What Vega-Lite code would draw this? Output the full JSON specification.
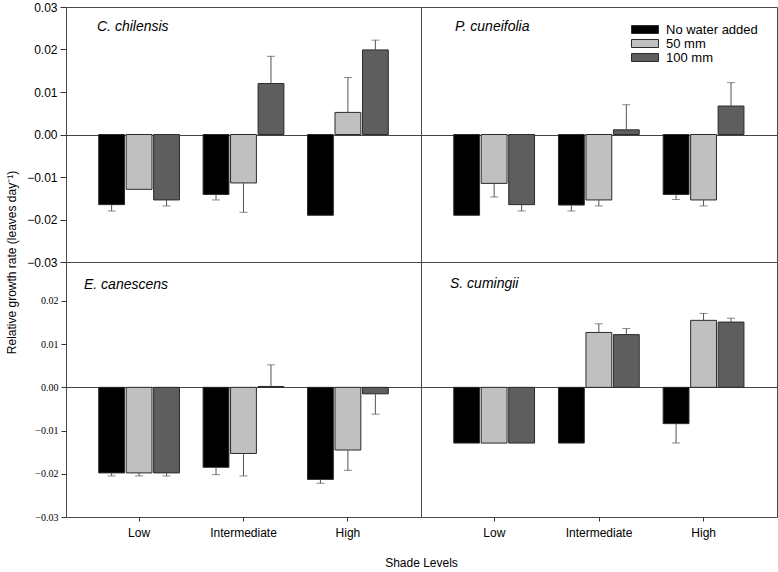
{
  "$schema": "https://vega.github.io/schema/vega-lite/v6.json",
  "padding": {"left": 4, "top": 0, "right": 0, "bottom": 0},
  "background": "white",
  "data": {"values": [
    {"sp": "C. chilensis", "shade": "Low", "water": "No water added", "rgr": -0.0165, "hi": -0.018},
    {"sp": "C. chilensis", "shade": "Low", "water": "50 mm", "rgr": -0.0129, "hi": null},
    {"sp": "C. chilensis", "shade": "Low", "water": "100 mm", "rgr": -0.0154, "hi": -0.0168},
    {"sp": "C. chilensis", "shade": "Intermediate", "water": "No water added", "rgr": -0.0141, "hi": -0.0154},
    {"sp": "C. chilensis", "shade": "Intermediate", "water": "50 mm", "rgr": -0.0114, "hi": -0.0183},
    {"sp": "C. chilensis", "shade": "Intermediate", "water": "100 mm", "rgr": 0.012, "hi": 0.0184},
    {"sp": "C. chilensis", "shade": "High", "water": "No water added", "rgr": -0.019, "hi": null},
    {"sp": "C. chilensis", "shade": "High", "water": "50 mm", "rgr": 0.0052, "hi": 0.0134},
    {"sp": "C. chilensis", "shade": "High", "water": "100 mm", "rgr": 0.0199, "hi": 0.0222},
    {"sp": "P. cuneifolia", "shade": "Low", "water": "No water added", "rgr": -0.019, "hi": null},
    {"sp": "P. cuneifolia", "shade": "Low", "water": "50 mm", "rgr": -0.0115, "hi": -0.0147},
    {"sp": "P. cuneifolia", "shade": "Low", "water": "100 mm", "rgr": -0.0165, "hi": -0.018},
    {"sp": "P. cuneifolia", "shade": "Intermediate", "water": "No water added", "rgr": -0.0166, "hi": -0.018},
    {"sp": "P. cuneifolia", "shade": "Intermediate", "water": "50 mm", "rgr": -0.0154, "hi": -0.0168},
    {"sp": "P. cuneifolia", "shade": "Intermediate", "water": "100 mm", "rgr": 0.0011, "hi": 0.007},
    {"sp": "P. cuneifolia", "shade": "High", "water": "No water added", "rgr": -0.0141, "hi": -0.0153},
    {"sp": "P. cuneifolia", "shade": "High", "water": "50 mm", "rgr": -0.0154, "hi": -0.0168},
    {"sp": "P. cuneifolia", "shade": "High", "water": "100 mm", "rgr": 0.0067, "hi": 0.0122},
    {"sp": "E. canescens", "shade": "Low", "water": "No water added", "rgr": -0.0198, "hi": -0.0205},
    {"sp": "E. canescens", "shade": "Low", "water": "50 mm", "rgr": -0.0198, "hi": -0.0205},
    {"sp": "E. canescens", "shade": "Low", "water": "100 mm", "rgr": -0.0198, "hi": -0.0205},
    {"sp": "E. canescens", "shade": "Intermediate", "water": "No water added", "rgr": -0.0185, "hi": -0.0202},
    {"sp": "E. canescens", "shade": "Intermediate", "water": "50 mm", "rgr": -0.0153, "hi": -0.0205},
    {"sp": "E. canescens", "shade": "Intermediate", "water": "100 mm", "rgr": 0.0002, "hi": 0.0052},
    {"sp": "E. canescens", "shade": "High", "water": "No water added", "rgr": -0.0213, "hi": -0.0222},
    {"sp": "E. canescens", "shade": "High", "water": "50 mm", "rgr": -0.0145, "hi": -0.0192},
    {"sp": "E. canescens", "shade": "High", "water": "100 mm", "rgr": -0.0015, "hi": -0.0062},
    {"sp": "S. cumingii", "shade": "Low", "water": "No water added", "rgr": -0.0129, "hi": null},
    {"sp": "S. cumingii", "shade": "Low", "water": "50 mm", "rgr": -0.0129, "hi": null},
    {"sp": "S. cumingii", "shade": "Low", "water": "100 mm", "rgr": -0.0129, "hi": null},
    {"sp": "S. cumingii", "shade": "Intermediate", "water": "No water added", "rgr": -0.0129, "hi": null},
    {"sp": "S. cumingii", "shade": "Intermediate", "water": "50 mm", "rgr": 0.0127, "hi": 0.0147},
    {"sp": "S. cumingii", "shade": "Intermediate", "water": "100 mm", "rgr": 0.0122, "hi": 0.0136},
    {"sp": "S. cumingii", "shade": "High", "water": "No water added", "rgr": -0.0084, "hi": -0.0129},
    {"sp": "S. cumingii", "shade": "High", "water": "50 mm", "rgr": 0.0155, "hi": 0.0171},
    {"sp": "S. cumingii", "shade": "High", "water": "100 mm", "rgr": 0.0151, "hi": 0.016}
  ]},
  "columns": 2,
  "spacing": 0,
  "bounds": "flush",
  "concat": [
    {
      "width": 355, "height": 255,
      "title": {"text": "C. chilensis", "anchor": "start", "frame": "group", "orient": "top", "offset": 0, "dx": 31, "dy": 44, "baseline": "alphabetic", "font": "Liberation Sans", "fontSize": 14, "fontStyle": "italic", "fontWeight": 400, "color": "black"},
      "transform": [{"filter": "datum.sp === 'C. chilensis'"}],
      "resolve": {"axis": {"y": "independent"}},
      "layer": [
        {"mark": {"type": "bar", "stroke": "#2b2b2b", "strokeWidth": 1},
         "encoding": {
           "x": {"field": "shade", "type": "nominal", "sort": ["Low", "Intermediate", "High"], "scale": {"paddingInner": 0, "paddingOuter": 0.2}, "axis": null},
           "xOffset": {"field": "water", "type": "nominal", "sort": ["No water added", "50 mm", "100 mm"], "scale": {"paddingInner": 0.06, "paddingOuter": 0.43}},
           "y": {"field": "rgr", "type": "quantitative", "scale": {"domain": [-0.03, 0.03], "nice": false, "zero": false},
                 "axis": {"values": [-0.03, -0.02, -0.01, 0, 0.01, 0.02, 0.03], "format": ".2f", "domain": false, "tickSize": 6, "tickColor": "#333", "labelPadding": 3, "labelFont": "Liberation Sans", "labelFontSize": 12, "labelColor": "black",
                          "grid": true, "gridColor": "#444", "gridOpacity": {"condition": {"test": "datum.value === 0", "value": 1}, "value": 0},
                          "title": "Relative growth rate (leaves day⁻¹)", "titleFont": "Liberation Sans", "titleFontSize": 12, "titleFontWeight": "normal", "titleColor": "black", "titleX": -55, "titleY": 255, "titleAngle": -90, "titleBaseline": "middle", "titleAlign": "center"}},
           "color": {"field": "water", "type": "nominal", "sort": ["No water added", "50 mm", "100 mm"], "scale": {"domain": ["No water added", "50 mm", "100 mm"], "range": ["#000000", "#c0c0c0", "#5e5e5e"]},
                     "legend": {"orient": "none", "legendX": 563, "legendY": 16, "title": null, "symbolType": "M-1,-1H5.75V1H-1Z", "symbolSize": 64, "symbolStrokeColor": "#222", "symbolStrokeWidth": 1, "symbolOpacity": 1, "labelFont": "Liberation Sans", "labelFontSize": 13, "labelColor": "black", "labelOffset": 24, "rowPadding": 0, "labelLimit": 200}}
         }},
        {"transform": [{"filter": "datum.hi != null"}],
         "mark": {"type": "rule", "color": "#555", "strokeWidth": 1},
         "encoding": {
           "x": {"field": "shade", "type": "nominal", "sort": ["Low", "Intermediate", "High"]},
           "xOffset": {"field": "water", "type": "nominal", "sort": ["No water added", "50 mm", "100 mm"]},
           "y": {"field": "rgr", "type": "quantitative", "axis": null},
           "y2": {"field": "hi"}
         }},
        {"transform": [{"filter": "datum.hi != null"}],
         "mark": {"type": "tick", "color": "#555", "size": 8, "thickness": 1, "orient": "horizontal"},
         "encoding": {
           "x": {"field": "shade", "type": "nominal", "sort": ["Low", "Intermediate", "High"]},
           "xOffset": {"field": "water", "type": "nominal", "sort": ["No water added", "50 mm", "100 mm"]},
           "y": {"field": "hi", "type": "quantitative", "axis": null}
         }}
      ]
    },
    {
      "width": 356, "height": 255,
      "title": {"text": "P. cuneifolia", "anchor": "start", "frame": "group", "orient": "top", "offset": 0, "dx": 34, "dy": 38, "baseline": "alphabetic", "font": "Liberation Sans", "fontSize": 14, "fontStyle": "italic", "fontWeight": 400, "color": "black"},
      "transform": [{"filter": "datum.sp === 'P. cuneifolia'"}],
      "resolve": {"axis": {"y": "independent"}},
      "layer": [
        {"mark": {"type": "bar", "stroke": "#2b2b2b", "strokeWidth": 1},
         "encoding": {
           "x": {"field": "shade", "type": "nominal", "sort": ["Low", "Intermediate", "High"], "scale": {"paddingInner": 0, "paddingOuter": 0.2}, "axis": null},
           "xOffset": {"field": "water", "type": "nominal", "sort": ["No water added", "50 mm", "100 mm"], "scale": {"paddingInner": 0.06, "paddingOuter": 0.43}},
           "y": {"field": "rgr", "type": "quantitative", "scale": {"domain": [-0.03, 0.03], "nice": false, "zero": false},
                 "axis": {"values": [0], "labels": false, "ticks": false, "domain": false, "grid": true, "gridColor": "#444", "title": null}},
           "color": {"field": "water", "type": "nominal", "sort": ["No water added", "50 mm", "100 mm"], "scale": {"domain": ["No water added", "50 mm", "100 mm"], "range": ["#000000", "#c0c0c0", "#5e5e5e"]}}
         }},
        {"transform": [{"filter": "datum.hi != null"}],
         "mark": {"type": "rule", "color": "#555", "strokeWidth": 1},
         "encoding": {
           "x": {"field": "shade", "type": "nominal", "sort": ["Low", "Intermediate", "High"]},
           "xOffset": {"field": "water", "type": "nominal", "sort": ["No water added", "50 mm", "100 mm"]},
           "y": {"field": "rgr", "type": "quantitative", "axis": null},
           "y2": {"field": "hi"}
         }},
        {"transform": [{"filter": "datum.hi != null"}],
         "mark": {"type": "tick", "color": "#555", "size": 8, "thickness": 1, "orient": "horizontal"},
         "encoding": {
           "x": {"field": "shade", "type": "nominal", "sort": ["Low", "Intermediate", "High"]},
           "xOffset": {"field": "water", "type": "nominal", "sort": ["No water added", "50 mm", "100 mm"]},
           "y": {"field": "hi", "type": "quantitative", "axis": null}
         }}
      ]
    },
    {
      "width": 355, "height": 255,
      "title": {"text": "E. canescens", "anchor": "start", "frame": "group", "orient": "top", "offset": 0, "dx": 18, "dy": 41, "baseline": "alphabetic", "font": "Liberation Sans", "fontSize": 14, "fontStyle": "italic", "fontWeight": 400, "color": "black"},
      "transform": [{"filter": "datum.sp === 'E. canescens'"}],
      "resolve": {"axis": {"y": "independent"}},
      "layer": [
        {"mark": {"type": "bar", "stroke": "#2b2b2b", "strokeWidth": 1},
         "encoding": {
           "x": {"field": "shade", "type": "nominal", "sort": ["Low", "Intermediate", "High"], "scale": {"paddingInner": 0, "paddingOuter": 0.2},
                 "axis": {"labelAngle": 0, "domain": false, "ticks": true, "tickSize": 4, "tickColor": "#333", "labelPadding": 6, "labelFont": "Liberation Sans", "labelFontSize": 12, "labelColor": "black",
                          "title": "Shade Levels", "titleFont": "Liberation Sans", "titleFontSize": 12, "titleFontWeight": "normal", "titleColor": "black", "titleX": 355, "titleY": 45, "titleBaseline": "middle", "titleAlign": "center"}},
           "xOffset": {"field": "water", "type": "nominal", "sort": ["No water added", "50 mm", "100 mm"], "scale": {"paddingInner": 0.06, "paddingOuter": 0.43}},
           "y": {"field": "rgr", "type": "quantitative", "scale": {"domain": [-0.03, 0.029], "nice": false, "zero": false},
                 "axis": {"values": [-0.03, -0.02, -0.01, 0, 0.01, 0.02], "format": ".2f", "domain": false, "tickSize": 5, "tickColor": "#333", "labelPadding": 3, "labelFont": "Liberation Serif", "labelFontSize": 10, "labelColor": "black",
                          "grid": true, "gridColor": "#444", "gridOpacity": {"condition": {"test": "datum.value === 0", "value": 1}, "value": 0}, "title": null}},
           "color": {"field": "water", "type": "nominal", "sort": ["No water added", "50 mm", "100 mm"], "scale": {"domain": ["No water added", "50 mm", "100 mm"], "range": ["#000000", "#c0c0c0", "#5e5e5e"]}}
         }},
        {"transform": [{"filter": "datum.hi != null"}],
         "mark": {"type": "rule", "color": "#555", "strokeWidth": 1},
         "encoding": {
           "x": {"field": "shade", "type": "nominal", "sort": ["Low", "Intermediate", "High"]},
           "xOffset": {"field": "water", "type": "nominal", "sort": ["No water added", "50 mm", "100 mm"]},
           "y": {"field": "rgr", "type": "quantitative", "axis": null},
           "y2": {"field": "hi"}
         }},
        {"transform": [{"filter": "datum.hi != null"}],
         "mark": {"type": "tick", "color": "#555", "size": 8, "thickness": 1, "orient": "horizontal"},
         "encoding": {
           "x": {"field": "shade", "type": "nominal", "sort": ["Low", "Intermediate", "High"]},
           "xOffset": {"field": "water", "type": "nominal", "sort": ["No water added", "50 mm", "100 mm"]},
           "y": {"field": "hi", "type": "quantitative", "axis": null}
         }}
      ]
    },
    {
      "width": 356, "height": 255,
      "title": {"text": "S. cumingii", "anchor": "start", "frame": "group", "orient": "top", "offset": 0, "dx": 29, "dy": 40, "baseline": "alphabetic", "font": "Liberation Sans", "fontSize": 14, "fontStyle": "italic", "fontWeight": 400, "color": "black"},
      "transform": [{"filter": "datum.sp === 'S. cumingii'"}],
      "resolve": {"axis": {"y": "independent"}},
      "layer": [
        {"mark": {"type": "bar", "stroke": "#2b2b2b", "strokeWidth": 1},
         "encoding": {
           "x": {"field": "shade", "type": "nominal", "sort": ["Low", "Intermediate", "High"], "scale": {"paddingInner": 0, "paddingOuter": 0.2},
                 "axis": {"labelAngle": 0, "domain": false, "ticks": true, "tickSize": 4, "tickColor": "#333", "labelPadding": 6, "labelFont": "Liberation Sans", "labelFontSize": 12, "labelColor": "black", "title": null}},
           "xOffset": {"field": "water", "type": "nominal", "sort": ["No water added", "50 mm", "100 mm"], "scale": {"paddingInner": 0.06, "paddingOuter": 0.43}},
           "y": {"field": "rgr", "type": "quantitative", "scale": {"domain": [-0.03, 0.029], "nice": false, "zero": false},
                 "axis": {"values": [0], "labels": false, "ticks": false, "domain": false, "grid": true, "gridColor": "#444", "title": null}},
           "color": {"field": "water", "type": "nominal", "sort": ["No water added", "50 mm", "100 mm"], "scale": {"domain": ["No water added", "50 mm", "100 mm"], "range": ["#000000", "#c0c0c0", "#5e5e5e"]}}
         }},
        {"transform": [{"filter": "datum.hi != null"}],
         "mark": {"type": "rule", "color": "#555", "strokeWidth": 1},
         "encoding": {
           "x": {"field": "shade", "type": "nominal", "sort": ["Low", "Intermediate", "High"]},
           "xOffset": {"field": "water", "type": "nominal", "sort": ["No water added", "50 mm", "100 mm"]},
           "y": {"field": "rgr", "type": "quantitative", "axis": null},
           "y2": {"field": "hi"}
         }},
        {"transform": [{"filter": "datum.hi != null"}],
         "mark": {"type": "tick", "color": "#555", "size": 8, "thickness": 1, "orient": "horizontal"},
         "encoding": {
           "x": {"field": "shade", "type": "nominal", "sort": ["Low", "Intermediate", "High"]},
           "xOffset": {"field": "water", "type": "nominal", "sort": ["No water added", "50 mm", "100 mm"]},
           "y": {"field": "hi", "type": "quantitative", "axis": null}
         }}
      ]
    }
  ],
  "config": {
    "view": {"stroke": "#4a4a4a", "strokeWidth": 1},
    "title": {"fontWeight": "normal"},
    "font": "Liberation Sans"
  }
}
